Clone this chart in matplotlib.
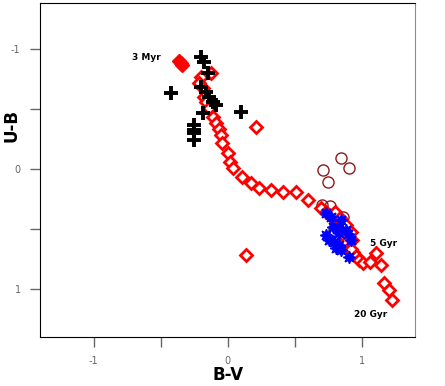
import numpy as np
import matplotlib.pyplot as plt

# model track (open red diamonds)
track_bv = [-0.127, -0.201, -0.216, -0.187, -0.179, -0.164, -0.142, -0.112, -0.090, -0.067,
            -0.052, -0.045, 0.0, 0.015, 0.037, 0.104, 0.172, 0.231, 0.321, 0.410,
            0.507, 0.597, 0.694, 0.731, 0.769, 0.799, 0.828, 0.843, 0.866, 0.881,
            0.903, 0.933, 0.955, 0.978, 1.007, 1.060, 1.104, 1.142, 1.164, 1.201,
            1.224, 0.209, 0.134, 0.80, 0.84, 0.88, 0.92, 0.93, 0.92]
track_ub = [-0.80, -0.767, -0.717, -0.675, -0.60, -0.558, -0.508, -0.433, -0.383, -0.333,
            -0.283, -0.217, -0.133, -0.058, -0.008, 0.067, 0.117, 0.158, 0.175, 0.192,
            0.192, 0.258, 0.325, 0.358, 0.392, 0.425, 0.467, 0.508, 0.558, 0.608,
            0.658, 0.692, 0.725, 0.758, 0.783, 0.775, 0.70, 0.80, 0.95, 1.008,
            1.092, -0.35, 0.717, 0.36, 0.41, 0.47, 0.53, 0.59, 0.67]

# youngest model points (filled red diamonds)
young_bv = [-0.366, -0.35, -0.34]
young_ub = [-0.90, -0.88, -0.865]

# black crosses
cross_bv = [-0.425, -0.201, -0.179, -0.149, -0.201, -0.164, -0.142, -0.112, -0.090, -0.187,
            -0.254, -0.254, -0.254, -0.254, 0.097]
cross_ub = [-0.633, -0.933, -0.892, -0.80, -0.683, -0.642, -0.60, -0.558, -0.533, -0.467,
            -0.367, -0.325, -0.30, -0.242, -0.475]

# blue stars
star_bv = [0.731, 0.769, 0.843, 0.784, 0.828, 0.881, 0.896, 0.828, 0.754, 0.791,
           0.828, 0.806, 0.843, 0.903, 0.731, 0.918]
star_ub = [0.367, 0.40, 0.425, 0.483, 0.492, 0.508, 0.542, 0.533, 0.592, 0.608,
           0.633, 0.658, 0.675, 0.733, 0.55, 0.592]

# open brown circles
circ_bv = [0.843, 0.903, 0.709, 0.746, 0.701, 0.761, 0.791, 0.858, 0.791, 0.896]
circ_ub = [-0.092, -0.008, 0.008, 0.108, 0.30, 0.308, 0.408, 0.40, 0.508, 0.608]

fig = plt.figure(figsize=(4.45, 3.86), dpi=100)
ax = fig.add_axes([0.09, 0.127, 0.843, 0.865])

ax.plot(circ_bv, circ_ub, 'o', ms=8, mfc='none', mec='#8b1a1a', mew=1.0, zorder=2)
ax.plot(track_bv, track_ub, 'D', ms=6.3, mfc='white', mec='red', mew=2.0, zorder=3)
ax.plot(young_bv, young_ub, 'D', ms=7, mfc='red', mec='red', zorder=3)
ax.plot(star_bv, star_ub, marker=(8, 1, 0), ls='none', ms=9, mfc='blue', mec='blue', zorder=4)
ax.plot(cross_bv, cross_ub, '+', ms=10, mec='black', mew=2.8, zorder=5)

ax.text(-0.71, -0.925, '3 Myr', fontsize=6.5, fontweight='bold', va='center')
ax.text(1.06, 0.625, '5 Gyr', fontsize=6.5, fontweight='bold', va='center')
ax.text(0.94, 1.217, '20 Gyr', fontsize=6.5, fontweight='bold', va='center')

ax.set_xlim(-1.4, 1.4)
ax.set_ylim(1.4, -1.38)
ax.set_xticks([-1, -0.5, 0, 0.5, 1])
ax.set_xticklabels(['-1', '', '0', '', '1'])
ax.set_yticks([-1, -0.5, 0, 0.5, 1])
ax.set_yticklabels(['-1', '', '0', '', '1'])
ax.tick_params(direction='out', length=7, width=1, colors='0.4', labelsize=7, pad=7)
ax.spines['right'].set_color('0.55')

ax.set_xlabel('B-V', fontsize=12, fontweight='bold', labelpad=0)
fig.text(0.025, 1 - 125 / 386, 'U-B', fontsize=12, fontweight='bold',
         rotation=90, ha='center', va='center')

fig.savefig('out.png', dpi=100)
